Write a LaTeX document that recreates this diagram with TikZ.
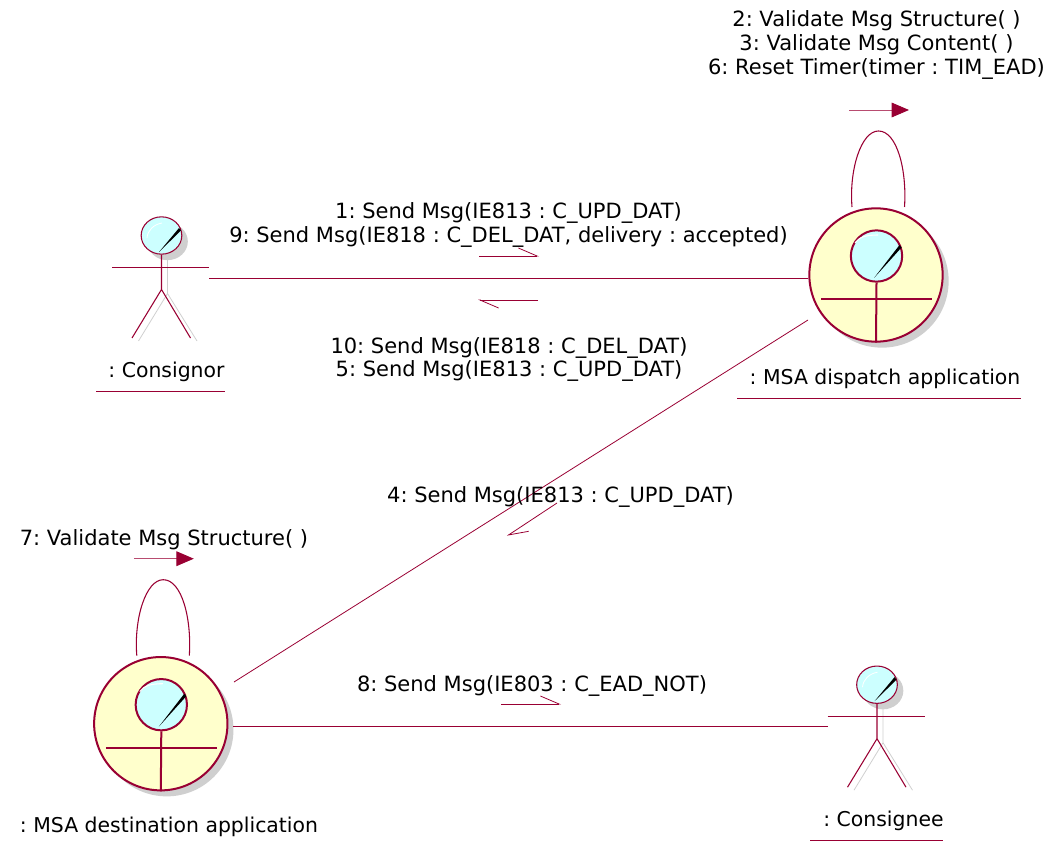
\documentclass[tikz,border=0pt]{standalone}
\usepackage{fontspec}
\setmainfont{DejaVu Sans}
\usetikzlibrary{arrows.meta,shadows,shapes.geometric}
\definecolor{roseline}{HTML}{990033}
\definecolor{rosebody}{HTML}{FFFFCC}
\definecolor{rosehead}{HTML}{CCFFFF}
\definecolor{roseshade}{HTML}{CFCFCF}
\frenchspacing
\tikzset{
    msgtext/.style={font=\fontsize{15.75}{17.8}\selectfont,align=center,inner sep=0pt},
    objname/.style={font=\fontsize{15.3}{17.8}\selectfont,inner sep=0pt},
    roseline/.style={draw=roseline,line width=0.6pt},
    thickrose/.style={draw=roseline,line width=1.5pt},
    halfarrow/.style={roseline,-{Straight Barb[left,length=14pt,width=12pt]}},
    selfarrow/.style={draw=roseline!70,line width=0.7pt,-{Triangle[length=13pt,width=11pt,color=roseline]}},
    bigbody/.style={circle,thickrose,fill=rosebody,minimum size=100pt,inner sep=0pt,opacity=1,drop shadow={shadow xshift=4.5pt,shadow yshift=-4.5pt,fill=roseshade,opacity=1}},
    bighead/.style={circle,thickrose,fill=rosehead,minimum size=38.5pt,inner sep=0pt},
    smallhead/.style={ellipse,roseline,line width=0.8pt,fill=rosehead,minimum width=30.5pt,minimum height=28pt,inner sep=0pt,drop shadow={shadow xshift=4.5pt,shadow yshift=-4.5pt,fill=roseshade,opacity=1}},
}
\begin{document}
\begin{tikzpicture}[x=0.75pt,y=-0.75pt]
    \useasboundingbox (0,0) rectangle (1048,841);
    % large figures
    \foreach \cx/\cy/\nm in {876/275/dispatch,160.8/723.7/destination} {
        \begin{scope}[shift={(\cx,\cy)}]
            \node[bigbody] (\nm) at (0,0) {};
            \node[bighead] (\nm head) at (0.5,-19) {};
            \draw[thickrose] (\nm head.south) -- (\nm.south);
            \draw[thickrose] (-55,24) -- (56,24);
            \fill[black] (-2,3) -- (23.5,-30) -- (25.5,-27.5) -- cycle;
            \draw[white,line width=0.8pt] (-21,-32) .. controls (-17,-38) and (-10,-40) .. (2,-40);
            \draw[roseline,line width=0.8pt] (-24,-68) .. controls (-27,-105) and (-15,-144) .. (2.5,-144) .. controls (21,-144) and (31,-105) .. (28.5,-68);
            \draw[selfarrow] (-27,-165) -- (33,-165);
        \end{scope}
    }
    % stick figures
    \foreach \cx/\cy/\nm in {161.5/235.5/consignor,877/684.7/consignee} {
        \begin{scope}[shift={(\cx,\cy)}]
            \draw[roseshade,line width=0.6pt] (6,18) -- (6,58) (-23,105.5) -- (6,58) -- (35.5,105.5);
            \node[smallhead] (\nm head) at (0,0) {};
            \fill[black] (-2.5,16.5) -- (17.5,-7.5) -- (19.5,-5) -- cycle;
            \draw[white,line width=0.6pt] (-14.5,2.5) .. controls (-14,-5) and (-8,-11) .. (0.5,-12.5);
            \draw[roseline,line width=0.8pt] (\nm head.south) -- (0,54) (-29.5,102.5) -- (0,54) -- (29,102.5);
            \draw[roseline] (-49.5,31.5) -- (47.5,31.5);
        \end{scope}
    }
    % link ends
    \coordinate (consignorlink) at (209,278);
    \coordinate (consigneelink) at (828,726.5);
    \coordinate (dispatchlink) at (808,320);
    \coordinate (destinationlink) at (234,682);
    \draw[roseline] (consignorlink) -- (consignorlink -| dispatch.west);
    \draw[roseline] (dispatchlink) -- (destinationlink);
    \draw[roseline] (consigneelink -| destination.east) ++(5,0) -- (consigneelink);
    % message arrows
    \draw[halfarrow] (479,256) -- (539,256);
    \draw[halfarrow] (538,300) -- (478,300);
    \draw[halfarrow] (557,503) -- (507,536);
    \draw[halfarrow] (501,704) -- (561,704);
    % message labels
    \node[msgtext] (validate) at (876.5,45) {2: Validate Msg Structure( )\\3: Validate Msg Content( )\\6: Reset Timer(timer : TIM\_EAD)};
    \node[msgtext] (sendtop) at (508.5,225) {1: Send Msg(IE813 : C\_UPD\_DAT)\\9: Send Msg(IE818 : C\_DEL\_DAT, delivery : accepted)};
    \node[msgtext] (sendbottom) at (509,359.5) {10: Send Msg(IE818 : C\_DEL\_DAT)\\5: Send Msg(IE813 : C\_UPD\_DAT)};
    \node[msgtext] (sendfour) at (560.5,497) {4: Send Msg(IE813 : C\_UPD\_DAT)};
    \node[msgtext] (selfseven) at (164,540) {7: Validate Msg Structure( )};
    \node[msgtext] (sendeight) at (532,686) {8: Send Msg(IE803 : C\_EAD\_NOT)};
    % object names
    \node[objname] (consignorname) at (166.5,372) {: Consignor};
    \node[objname] (dispatchname) at (885,379) {: MSA dispatch application};
    \node[objname] (destinationname) at (169,827) {: MSA destination application};
    \node[objname] (consigneename) at (883.5,821) {: Consignee};
    \draw[roseline] (96,391) -- (225,391);
    \draw[roseline] (737,398) -- (1021,398);
    \draw[roseline] (810,840) -- (943,840);
\end{tikzpicture}
\end{document}
